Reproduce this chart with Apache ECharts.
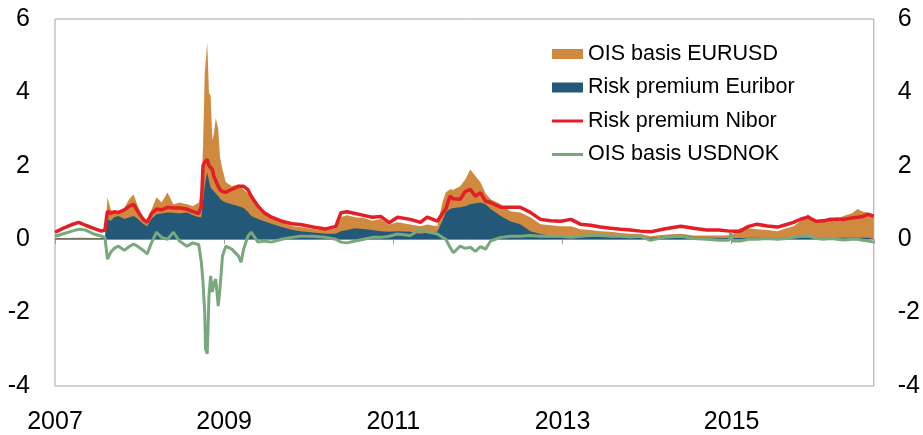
<!DOCTYPE html>
<html>
<head>
<meta charset="utf-8">
<script src="https://cdn.jsdelivr.net/npm/echarts@6/dist/echarts.min.js"></script>
<style>
  html, body { margin: 0; padding: 0; background: #fff; }
  #chart { width: 923px; height: 435px; }
</style>
</head>
<body>
<div id="chart"></div>
<script>
// time points in decimal years
var dates = [
  2007.00, 2007.10, 2007.20, 2007.28, 2007.36, 2007.45, 2007.55, 2007.59, 2007.62, 2007.66,
  2007.70, 2007.75, 2007.82, 2007.88, 2007.93, 2007.98, 2008.04, 2008.09, 2008.14, 2008.20,
  2008.26, 2008.33, 2008.40, 2008.47, 2008.56, 2008.63, 2008.70, 2008.73, 2008.75, 2008.77,
  2008.78, 2008.80, 2008.82, 2008.84, 2008.86, 2008.88, 2008.90, 2008.93, 2008.95, 2008.98,
  2009.02, 2009.09, 2009.17, 2009.20, 2009.23, 2009.28, 2009.32, 2009.40, 2009.47, 2009.56,
  2009.68, 2009.80, 2009.90, 2010.05, 2010.20, 2010.32, 2010.38, 2010.45, 2010.55, 2010.65,
  2010.75, 2010.85, 2010.95, 2011.05, 2011.20, 2011.32, 2011.40, 2011.52, 2011.58, 2011.62,
  2011.67, 2011.71, 2011.79, 2011.85, 2011.91, 2011.97, 2012.03, 2012.09, 2012.15, 2012.27,
  2012.38, 2012.50, 2012.62, 2012.74, 2012.86, 2012.98, 2013.10, 2013.21, 2013.33, 2013.45,
  2013.57, 2013.69, 2013.80, 2013.92, 2014.04, 2014.20, 2014.40, 2014.55, 2014.70, 2014.85,
  2014.97, 2014.99, 2015.01, 2015.10, 2015.20, 2015.30, 2015.42, 2015.54, 2015.65, 2015.73,
  2015.82, 2015.90, 2016.00, 2016.09, 2016.17, 2016.25, 2016.32, 2016.42, 2016.49, 2016.55,
  2016.61, 2016.68
];

// Risk premium Euribor (blue area)
var euribor = [
  0.02, 0.02, 0.02, 0.02, 0.02, 0.02, 0.02, 0.05, 0.54, 0.50,
  0.60, 0.63, 0.55, 0.60, 0.63, 0.55, 0.42, 0.35, 0.55, 0.68,
  0.70, 0.73, 0.72, 0.70, 0.73, 0.65, 0.60, 0.60, 1.00, 1.44,
  1.60, 1.82, 1.60, 1.40, 1.36, 1.30, 1.25, 1.17, 1.10, 1.05,
  1.00, 0.95, 0.90, 0.88, 0.85, 0.75, 0.63, 0.55, 0.49, 0.42,
  0.33, 0.26, 0.22, 0.18, 0.15, 0.15, 0.22, 0.25, 0.30, 0.28,
  0.25, 0.22, 0.20, 0.22, 0.20, 0.15, 0.18, 0.20, 0.50, 0.73,
  0.82, 0.85, 0.87, 0.90, 0.95, 0.98, 1.00, 0.95, 0.82, 0.63,
  0.49, 0.41, 0.22, 0.14, 0.10, 0.08, 0.08, 0.08, 0.08, 0.08,
  0.07, 0.06, 0.05, 0.05, 0.03, 0.08, 0.12, 0.06, 0.04, 0.03,
  0.03, 0.03, 0.03, 0.03, 0.04, 0.04, 0.04, 0.04, 0.04, 0.04,
  0.04, 0.04, 0.04, 0.04, 0.04, 0.04, 0.04, 0.04, 0.04, 0.04,
  0.04, 0.03
];

// OIS basis EURUSD (orange area, drawn on top of Euribor)
var oisEurUsd = [
  0.01, 0.01, 0.02, 0.02, 0.02, 0.01, 0.01, 0.01, 0.60, 0.30,
  0.15, 0.07, 0.30, 0.50, 0.59, 0.35, 0.18, 0.15, 0.25, 0.46,
  0.30, 0.54, 0.23, 0.30, 0.22, 0.25, 0.40, 0.76, 1.50, 3.06,
  3.20, 3.53, 2.40, 2.50, 1.34, 1.60, 2.05, 1.83, 1.15, 0.85,
  0.55, 0.49, 0.60, 0.57, 0.50, 0.50, 0.54, 0.35, 0.26, 0.20,
  0.13, 0.10, 0.11, 0.10, 0.10, 0.15, 0.38, 0.40, 0.30, 0.30,
  0.25, 0.33, 0.20, 0.24, 0.20, 0.20, 0.22, 0.15, 0.50, 0.54,
  0.54, 0.50, 0.57, 0.73, 0.95, 0.74, 0.55, 0.30, 0.27, 0.32,
  0.27, 0.32, 0.38, 0.27, 0.28, 0.27, 0.27, 0.19, 0.17, 0.14,
  0.13, 0.11, 0.10, 0.09, 0.05, 0.04, 0.03, 0.04, 0.06, 0.07,
  0.08, 0.09, 0.09, 0.27, 0.26, 0.23, 0.21, 0.18, 0.26, 0.31,
  0.46, 0.64, 0.46, 0.51, 0.56, 0.51, 0.59, 0.66, 0.78, 0.71,
  0.69, 0.62
];

// Risk premium Nibor (red line)
var nibor = [
  0.19, 0.30, 0.40, 0.46, 0.38, 0.30, 0.22, 0.25, 0.76, 0.70,
  0.75, 0.73, 0.80, 0.90, 0.95, 0.75, 0.55, 0.46, 0.70, 0.82,
  0.80, 0.87, 0.85, 0.85, 0.82, 0.75, 0.70, 0.90, 2.00, 2.10,
  2.15, 2.17, 2.00, 1.95, 1.90, 1.70, 1.60, 1.44, 1.35, 1.30,
  1.28, 1.36, 1.44, 1.44, 1.44, 1.35, 1.17, 0.90, 0.73, 0.60,
  0.49, 0.42, 0.40, 0.33, 0.28, 0.35, 0.72, 0.75, 0.70, 0.65,
  0.60, 0.62, 0.45, 0.60, 0.54, 0.46, 0.60, 0.49, 0.70, 0.82,
  1.17, 1.10, 1.09, 1.30, 1.36, 1.17, 1.27, 1.04, 1.00, 0.87,
  0.87, 0.87, 0.73, 0.54, 0.50, 0.49, 0.54, 0.41, 0.38, 0.33,
  0.30, 0.27, 0.25, 0.22, 0.20, 0.28, 0.35, 0.30, 0.25, 0.25,
  0.22, 0.22, 0.22, 0.22, 0.35, 0.41, 0.36, 0.33, 0.40, 0.46,
  0.55, 0.60, 0.49, 0.50, 0.54, 0.55, 0.54, 0.58, 0.60, 0.62,
  0.68, 0.63
];

// OIS basis USDNOK (green line)
var oisUsdNok = [
  0.08, 0.15, 0.22, 0.27, 0.25, 0.15, 0.08, 0.05, -0.54, -0.35,
  -0.25, -0.19, -0.30, -0.20, -0.13, -0.20, -0.30, -0.40, -0.10, 0.19,
  0.05, 0.00, 0.19, -0.05, -0.19, -0.10, -0.15, -0.63, -1.17, -2.00,
  -3.00, -3.12, -1.55, -1.00, -1.44, -1.20, -1.09, -1.82, -1.36, -0.46,
  -0.19, -0.27, -0.46, -0.63, -0.27, 0.08, 0.19, -0.08, -0.05, -0.08,
  0.00, 0.05, 0.08, 0.08, 0.05, 0.00, -0.08, -0.10, -0.05, 0.00,
  0.05, 0.05, 0.08, 0.14, 0.10, 0.27, 0.20, 0.14, 0.05, 0.00,
  -0.22, -0.37, -0.19, -0.25, -0.22, -0.33, -0.20, -0.27, -0.05, 0.05,
  0.08, 0.08, 0.10, 0.08, 0.08, 0.08, 0.05, 0.08, 0.10, 0.10,
  0.08, 0.08, 0.06, 0.08, -0.03, 0.05, 0.08, 0.02, 0.00, -0.03,
  -0.03, 0.18, -0.05, -0.05, 0.00, 0.00, 0.02, 0.00, 0.02, 0.05,
  0.08, 0.10, 0.02, 0.00, 0.02, 0.00, -0.02, 0.00, 0.00, -0.03,
  -0.05, -0.08
];

var yTicks = [-4, -2, 0, 2, 4, 6];
var yearLabels = [2007, 2009, 2011, 2013, 2015];

function pairs(vals) {
  return dates.map(function (d, i) { return [d, vals[i]]; });
}
// top edge of the orange band = Euribor + OIS basis EURUSD
var eurTop = euribor.map(function (v, i) { return +(v + oisEurUsd[i]).toFixed(3); });

var font = 'Liberation Sans, Arial, sans-serif';
var lineIcon = 'path://M0,0L31,0L31,3L0,3Z';
var chart = echarts.init(document.getElementById('chart'), null, { renderer: 'canvas' });

chart.setOption({
  backgroundColor: '#ffffff',
  animation: false,
  textStyle: { fontFamily: font },
  grid: {
    left: 55, right: 49, top: 19, bottom: 48,
    show: true, borderColor: '#a6a6a6', borderWidth: 1
  },
  legend: {
    orient: 'vertical',
    left: 552, top: 42, padding: 0,
    itemWidth: 31, itemHeight: 10, itemGap: 9.5,
    textStyle: { fontSize: 21.5, color: '#000', fontFamily: font, lineHeight: 24 },
    data: [
      { name: 'OIS basis EURUSD', icon: 'rect' },
      { name: 'Risk premium Euribor', icon: 'rect' },
      { name: 'Risk premium Nibor', icon: lineIcon },
      { name: 'OIS basis USDNOK', icon: lineIcon }
    ]
  },
  xAxis: [
    {
      type: 'value', min: 2007, max: dates[dates.length - 1], interval: 2,
      axisLine: { onZero: true, lineStyle: { color: '#a0a0a0', width: 1 } },
      axisTick: { show: true, length: 5, lineStyle: { color: '#a0a0a0' } },
      axisLabel: { show: false },
      splitLine: { show: false }
    },
    {
      type: 'value', min: 2007, max: dates[dates.length - 1], interval: 2,
      position: 'bottom',
      axisLine: { show: false, onZero: false },
      axisTick: { show: false },
      splitLine: { show: false },
      axisLabel: {
        margin: 24, fontSize: 25, color: '#000', fontFamily: font,
        showMaxLabel: false,
        formatter: function (v) {
          return yearLabels.indexOf(Math.round(v)) >= 0 && Math.abs(v - Math.round(v)) < 1e-6 ? String(Math.round(v)) : '';
        }
      }
    }
  ],
  yAxis: [
    {
      type: 'value', min: -4, max: 6, interval: 2, position: 'left',
      axisLine: { show: false }, axisTick: { show: false }, splitLine: { show: false },
      axisLabel: { margin: 25, fontSize: 25, color: '#000', fontFamily: font,
        formatter: function (v) { return yTicks.indexOf(v) >= 0 ? String(v) : ''; } }
    },
    {
      type: 'value', min: -4, max: 6, interval: 2, position: 'right',
      axisLine: { show: false }, axisTick: { show: false }, splitLine: { show: false },
      axisLabel: { margin: 24, fontSize: 25, color: '#000', fontFamily: font,
        formatter: function (v) { return yTicks.indexOf(v) >= 0 ? String(v) : ''; } }
    }
  ],
  series: [
    {
      name: 'OIS basis EURUSD', type: 'line',
      data: pairs(eurTop), symbol: 'none', showSymbol: false,
      lineStyle: { width: 0 }, itemStyle: { color: '#cf8a40' },
      areaStyle: { color: '#cf8a40', opacity: 1 }, z: 1
    },
    {
      name: 'Risk premium Euribor', type: 'line',
      data: pairs(euribor), symbol: 'none', showSymbol: false,
      lineStyle: { width: 0 }, itemStyle: { color: '#235878' },
      areaStyle: { color: '#235878', opacity: 1 }, z: 2
    },
    {
      name: 'Risk premium Nibor', type: 'line',
      data: pairs(nibor), symbol: 'none', showSymbol: false,
      lineStyle: { width: 3.5, color: '#e31e24' }, itemStyle: { color: '#e31e24' }, z: 3
    },
    {
      name: 'OIS basis USDNOK', type: 'line',
      data: pairs(oisUsdNok), symbol: 'none', showSymbol: false,
      lineStyle: { width: 3, color: '#7aa87d' }, itemStyle: { color: '#7aa87d' }, z: 4
    }
  ]
});
</script>
</body>
</html>
